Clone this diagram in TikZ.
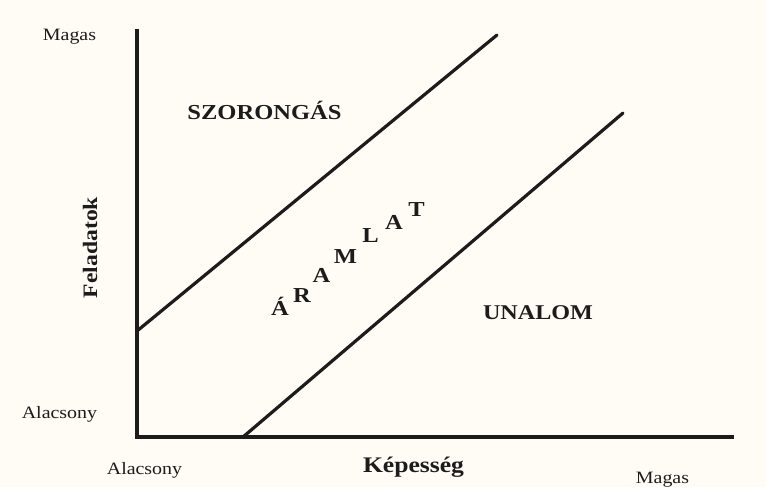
\documentclass[tikz,border=0pt]{standalone}
\usepackage{fontspec}
\setmainfont{Liberation Serif}[FakeStretch=1.15]
\usetikzlibrary{positioning}
\definecolor{paper}{RGB}{255,251,245}
\definecolor{ink}{RGB}{28,28,28}
\tikzset{
  axis/.style={draw=ink,line width=2.6pt},
  zone/.style={draw=ink,line width=2.4pt,line cap=round},
  levellabel/.style={font=\fontsize{13}{15}\selectfont,text=ink,inner sep=0pt,anchor=base},
  zonelabel/.style={font=\fontsize{#1}{18}\selectfont\bfseries,text=ink,inner sep=0pt,anchor=base},
  zonelabel/.default=16,
  flowletter/.style={font=\fontsize{16}{18}\selectfont\bfseries,text=ink,inner sep=0pt,anchor=base},
}
\begin{document}
\begin{tikzpicture}[x=0.75pt,y=-0.75pt]
  \fill[paper] (0,0) rectangle (766,487);
  \useasboundingbox (0,0) rectangle (766,487);
  % axes
  \coordinate (o) at (137,437);
  \coordinate (ytop) at (137,29);
  \coordinate (xend) at (734,437);
  \draw[axis] (ytop) -- (o) -- (xend);
  % edges of the flow channel
  \coordinate (upA) at (137,331);
  \coordinate (upB) at (497,35);
  \coordinate (loA) at (243,437);
  \coordinate (loB) at (623,113);
  \draw[zone] (upA) -- (upB);
  \draw[zone] (loA) -- (loB);
  % scale ends
  \node[levellabel] (yhigh) at (69.5,40.5) {Magas};
  \node[levellabel] (ylow) at (59.5,418.5) {Alacsony};
  \node[levellabel] (xlow) at (144.5,474.5) {Alacsony};
  \node[levellabel] (xhigh) at (662.5,483.5) {Magas};
  % axis titles
  \node[zonelabel=16.7] (xtitle) at (413.5,472) {Képesség};
  \node[zonelabel=15.4,rotate=90] (ytitle) at (97,247.5) {Feladatok};
  % regions
  \node[zonelabel=16] (anx) at (264.5,119) {SZORONGÁS};
  \node[zonelabel=15.75] (bore) at (538,319) {UNALOM};
  \foreach \ch/\px/\py [count=\i] in {Á/280/315,R/302/302,A/321.5/282,M/345.5/263,L/370.5/242,A/394/229,T/416.5/216}
    \node[flowletter] (flow\i) at (\px,\py) {\ch};
\end{tikzpicture}
\end{document}
